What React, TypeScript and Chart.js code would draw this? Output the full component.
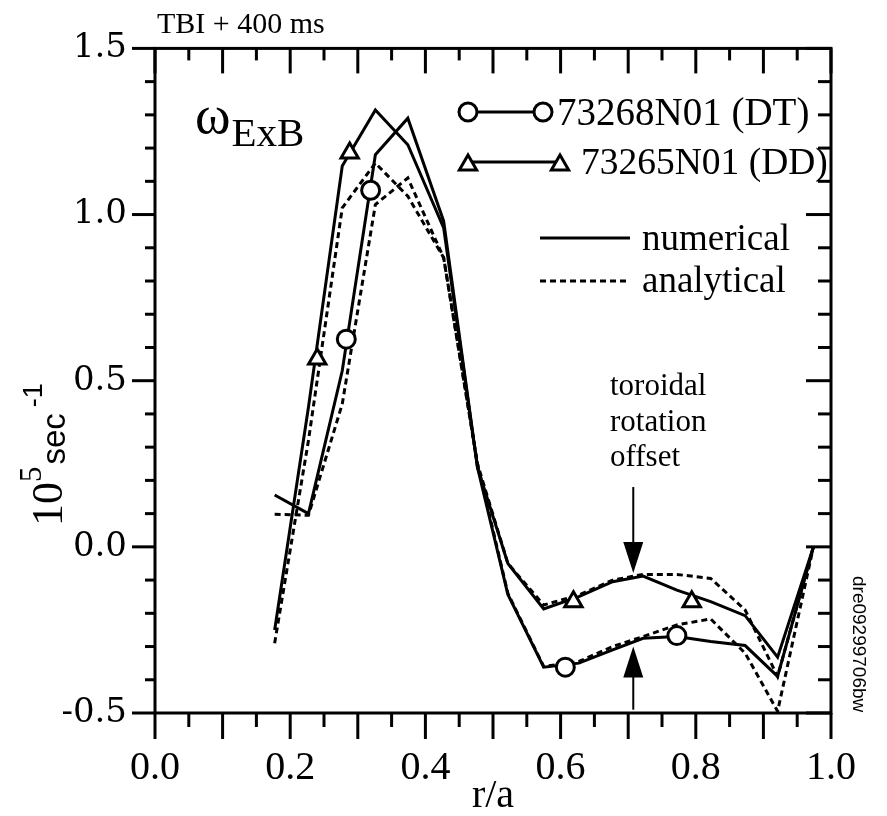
import React, { useEffect, useRef } from 'react';
import { Chart, registerables } from 'chart.js';

Chart.register(...registerables);

// ---- data ----
const rGrid = [0.177, 0.227, 0.277, 0.326, 0.374, 0.427, 0.477, 0.522, 0.575, 0.627, 0.677, 0.722, 0.772, 0.822, 0.873, 0.921, 0.974];
const dtNumerical = [0.156, 0.10, 0.53, 1.18, 1.29, 0.98, 0.24, -0.143, -0.362, -0.35, -0.31, -0.275, -0.27, -0.285, -0.297, -0.39, 0.0];
const dtAnalytical = [0.098, 0.095, 0.43, 1.03, 1.11, 0.87, 0.25, -0.14, -0.36, -0.345, -0.30, -0.27, -0.235, -0.217, -0.32, -0.495, 0.0];
const ddNumerical = [-0.25, 0.42, 1.146, 1.315, 1.21, 0.96, 0.24, -0.05, -0.187, -0.15, -0.105, -0.088, -0.13, -0.165, -0.207, -0.332, 0.0];
const ddAnalytical = [-0.29, 0.32, 1.02, 1.155, 1.055, 0.87, 0.25, -0.05, -0.175, -0.145, -0.10, -0.083, -0.083, -0.095, -0.19, -0.39, 0.0];

const dtMarkerR = [0.283, 0.319, 0.607, 0.772];
const dtMarkerV = [0.625, 1.073, -0.362, -0.267];
const ddMarkerR = [0.240, 0.288, 0.619, 0.794];
const ddMarkerV = [0.565, 1.185, -0.165, -0.165];

const seriesLabels = ['73268N01 (DT)', '73265N01 (DD)'];
const styleLabels = ['numerical', 'analytical'];
const noteLines = ['toroidal', 'rotation', 'offset'];
const topNote = 'TBI + 400 ms';
const quantityMain = 'ω';
const quantitySub = 'ExB';
const sideTag = 'dre09299706bw';
const arrowR = 0.7075;
const arrowDown = [0.18, -0.079]; // tail, tip
const arrowUp = [-0.49, -0.30]; // tail, tip

const xMin = 0, xMax = 1, xStep = 0.2;
const yMin = -0.5, yMax = 1.5, yStep = 0.5;

const pts = (rs: number[], vs: number[]) => rs.map((r, i) => ({ x: r, y: vs[i] }));

const SERIF = '"Liberation Serif", "Times New Roman", serif';

function drawTri(ctx: CanvasRenderingContext2D, x: number, y: number, r: number) {
  ctx.beginPath();
  let a = 0;
  ctx.moveTo(x + Math.sin(a) * r, y - Math.cos(a) * r);
  a += (2 * Math.PI) / 3;
  ctx.lineTo(x + Math.sin(a) * r, y - Math.cos(a) * r);
  a += (2 * Math.PI) / 3;
  ctx.lineTo(x + Math.sin(a) * r, y - Math.cos(a) * r);
  ctx.closePath();
  ctx.fillStyle = '#fff';
  ctx.fill();
  ctx.stroke();
}
function drawCirc(ctx: CanvasRenderingContext2D, x: number, y: number, r: number) {
  ctx.beginPath();
  ctx.arc(x, y, r, 0, Math.PI * 2);
  ctx.fillStyle = '#fff';
  ctx.fill();
  ctx.stroke();
}

const decor = {
  id: 'decor',
  afterDraw(chart: any) {
    const { ctx, chartArea: a, scales } = chart;
    const xs = scales.x, ys = scales.y;
    ctx.save();
    ctx.strokeStyle = '#000';
    ctx.fillStyle = '#000';
    ctx.lineCap = 'butt';
    const seg = (x1: number, y1: number, x2: number, y2: number) => {
      ctx.beginPath(); ctx.moveTo(x1, y1); ctx.lineTo(x2, y2); ctx.stroke();
    };
    // frame
    ctx.lineWidth = 3;
    ctx.strokeRect(a.left, a.top, a.right - a.left, a.bottom - a.top);
    // x ticks
    for (let i = 0; i <= 20; i++) {
      const px = xs.getPixelForValue(xMin + i * 0.05);
      const major = i % 2 === 0;
      seg(px, a.bottom, px, a.bottom + (major ? 26 : 14));
      seg(px, a.top, px, a.top + (major ? 25 : 12));
    }
    // y ticks
    for (let i = 0; i <= 20; i++) {
      const py = ys.getPixelForValue(yMin + i * 0.1);
      const major = i % 5 === 0;
      seg(a.left - (major ? 23 : 10), py, a.left, py);
      seg(a.right - (major ? 25 : 13), py, a.right, py);
    }

    ctx.fillStyle = '#000';
    ctx.textBaseline = 'alphabetic';
    ctx.textAlign = 'left';
    // top note
    ctx.font = `30px ${SERIF}`;
    ctx.fillText(topNote, 157, 33);
    // omega ExB
    ctx.font = `54px ${SERIF}`;
    ctx.fillText(quantityMain, 195, 133);
    const wOm = ctx.measureText(quantityMain).width;
    ctx.font = `41px ${SERIF}`;
    ctx.fillText(quantitySub, 196 + wOm, 146);

    // legend
    ctx.lineWidth = 3;
    ctx.strokeStyle = '#000';
    seg(468, 112, 543, 112);
    drawCirc(ctx, 468, 112, 9);
    drawCirc(ctx, 543, 112, 9);
    seg(468, 162, 560, 162);
    drawTri(ctx, 468, 165, 10);
    drawTri(ctx, 560, 165, 10);
    ctx.fillStyle = '#000';
    ctx.font = `39px ${SERIF}`;
    ctx.fillText(seriesLabels[0], 557, 125);
    ctx.font = `37.5px ${SERIF}`;
    ctx.fillText(seriesLabels[1], 581, 174);
    ctx.font = `37px ${SERIF}`;
    seg(540, 238, 630, 238);
    ctx.setLineDash([6, 4]);
    seg(540, 281, 628, 281);
    ctx.setLineDash([]);
    ctx.fillText(styleLabels[0], 642, 250);
    ctx.fillText(styleLabels[1], 642, 292);

    // toroidal rotation offset note
    ctx.font = `31px ${SERIF}`;
    noteLines.forEach((t, i) => ctx.fillText(t, 610, 395 + i * 35.5));

    // arrows
    const ax = xs.getPixelForValue(arrowR);
    ctx.lineWidth = 2;
    const dTail = ys.getPixelForValue(arrowDown[0]);
    const dTip = ys.getPixelForValue(arrowDown[1]);
    seg(ax, dTail, ax, dTip - 25);
    ctx.beginPath();
    ctx.moveTo(ax - 10, dTip - 31); ctx.lineTo(ax + 10, dTip - 31); ctx.lineTo(ax, dTip); ctx.closePath();
    ctx.fill();
    const uTail = ys.getPixelForValue(arrowUp[0]);
    const uTip = ys.getPixelForValue(arrowUp[1]);
    seg(ax, uTail, ax, uTip + 25);
    ctx.beginPath();
    ctx.moveTo(ax - 10, uTip + 31); ctx.lineTo(ax + 10, uTip + 31); ctx.lineTo(ax, uTip); ctx.closePath();
    ctx.fill();

    // side tag
    ctx.save();
    ctx.translate(853, 576);
    ctx.rotate(Math.PI / 2);
    ctx.font = '19px "Liberation Sans", Arial, sans-serif';
    ctx.fillText(sideTag, 0, 0);
    ctx.restore();

    // y axis title: 10^5 sec^-1
    ctx.save();
    ctx.translate(62, 526);
    ctx.rotate(-Math.PI / 2);
    let cx = 0;
    ctx.font = `44px ${SERIF}`;
    ctx.fillText('10', cx, 0);
    cx += ctx.measureText('10').width;
    ctx.font = `31px ${SERIF}`;
    ctx.fillText('5', cx, -21);
    cx += ctx.measureText('5').width + 2;
    ctx.font = '33px "Liberation Sans Narrow", "Liberation Sans", sans-serif';
    ctx.fillText('sec', cx, 3);
    cx += ctx.measureText('sec').width + 6;
    ctx.font = '27px "Liberation Sans Narrow", "Liberation Sans", sans-serif';
    ctx.fillText('-1', cx, -20);
    ctx.restore();

    ctx.restore();
  },
};

export default function App() {
  const ref = useRef<HTMLCanvasElement | null>(null);
  useEffect(() => {
    if (!ref.current) return;
    const lineDs = (label: string, vals: number[], dashed: boolean) => ({
      label,
      data: pts(rGrid, vals),
      showLine: true,
      borderColor: '#000',
      backgroundColor: '#000',
      borderWidth: 3,
      borderDash: dashed ? [6, 4] : [],
      pointRadius: 0,
      pointHoverRadius: 0,
      tension: 0,
      fill: false,
      order: 2,
    });
    const markDs = (label: string, rs: number[], vs: number[], style: string, radius: number) => ({
      label,
      data: pts(rs, vs),
      showLine: false,
      pointStyle: style,
      pointRadius: radius,
      pointHoverRadius: radius,
      pointBackgroundColor: '#fff',
      pointBorderColor: '#000',
      pointBorderWidth: 3,
      order: 0,
    });
    const chart = new Chart(ref.current, {
      type: 'scatter',
      data: {
        datasets: [
          markDs('DT markers', dtMarkerR, dtMarkerV, 'circle', 9),
          markDs('DD markers', ddMarkerR, ddMarkerV, 'triangle', 10),
          lineDs('73268N01 (DT) numerical', dtNumerical, false),
          lineDs('73268N01 (DT) analytical', dtAnalytical, true),
          lineDs('73265N01 (DD) numerical', ddNumerical, false),
          lineDs('73265N01 (DD) analytical', ddAnalytical, true),
        ] as any,
      },
      options: {
        animation: false,
        responsive: false,
        devicePixelRatio: 1,
        layout: { padding: { left: 0, top: 43, right: 37, bottom: 0 } },
        plugins: { legend: { display: false }, tooltip: { enabled: false } },
        scales: {
          x: {
            type: 'linear',
            position: 'bottom',
            min: xMin,
            max: xMax,
            grid: { display: false, drawTicks: false },
            border: { display: false },
            ticks: {
              stepSize: xStep,
              autoSkip: false,
              maxRotation: 0,
              padding: 31,
              color: '#000',
              font: { family: 'Liberation Serif', size: 40 },
              callback: (v: any) => Number(v).toFixed(1),
            },
            title: {
              display: true,
              text: 'r/a',
              color: '#000',
              font: { family: 'Liberation Serif', size: 40, lineHeight: 1 },
              padding: 0,
            },
            afterFit: (s: any) => { s.height = 103; },
          },
          y: {
            type: 'linear',
            min: yMin,
            max: yMax,
            grid: { display: false, drawTicks: false },
            border: { display: false },
            ticks: {
              stepSize: yStep,
              autoSkip: false,
              padding: 28,
              color: '#000',
              font: { family: 'DejaVu Serif', size: 34 },
              callback: (v: any) => Number(v).toFixed(1),
            },
            afterFit: (s: any) => { s.width = 155; },
          },
        },
      } as any,
      plugins: [decor],
    });
    return () => chart.destroy();
  }, []);
  return (
    <div style={{ position: 'fixed', left: 0, top: 0, width: 887, height: 816, background: '#fff' }}>
      <canvas ref={ref} width={887} height={816} style={{ display: 'block' }} />
    </div>
  );
}
